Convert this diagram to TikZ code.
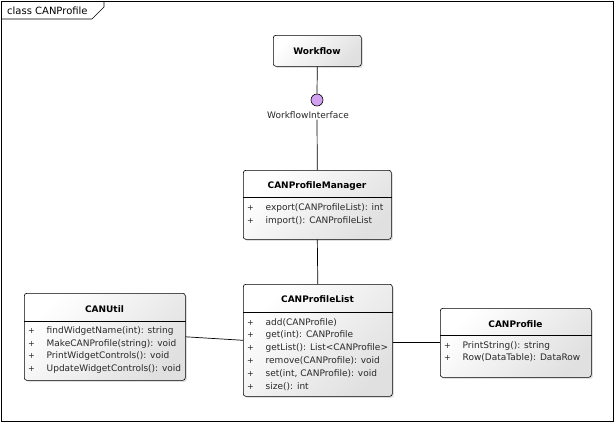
\documentclass[tikz,border=0pt]{standalone}
\usepackage{fontspec}
\setmainfont{DejaVu Sans}
\usetikzlibrary{shadows}
\definecolor{ifacepurple}{RGB}{210,160,240}
\definecolor{membertext}{RGB}{40,40,40}
\tikzset{
  classbox/.style={draw, line width=0.6pt, rounded corners=2.5pt,
    top color=white, bottom color=black!12, shading angle=45,
    drop shadow={shadow xshift=1.5pt, shadow yshift=-1.5pt, opacity=0.25},
    anchor=north west, inner sep=0pt},
  classname/.style={font=\fontsize{9}{11}\selectfont\bfseries, anchor=base, inner sep=0pt},
  member/.style={font=\fontsize{9}{11}\selectfont, text=membertext, anchor=base west, inner sep=0pt},
  plusmark/.style={font=\fontsize{8}{10}\selectfont, text=membertext, anchor=base, inner sep=0pt},
  link/.style={line width=0.7pt},
}
\begin{document}
\begin{tikzpicture}[x=1pt, y=-1pt]
  \useasboundingbox (0,0) rectangle (616,423);
  % frame with its tab
  \draw[line width=0.6pt] (1,1) rectangle (613,421);
  \draw[line width=0.6pt] (1,19) -- (92,19) -- (104,7) -- (104,1);
  \node[anchor=base west, inner sep=0pt, font=\fontsize{10}{12}\selectfont] (frametitle) at (7,14.5) {class CANProfile};
  % Workflow
  \node[classbox, minimum width=88pt, minimum height=31pt] (workflow) at (273,35) {};
  \node[classname] (workflowname) at (317,54) {Workflow};
  % provided interface
  \node[circle, draw, line width=0.6pt, fill=ifacepurple, minimum size=12pt, inner sep=0pt] (wfi) at (317,100) {};
  \node[font=\fontsize{9}{11}\selectfont, text=membertext, inner sep=1pt] (wfilabel) at (308,115) {WorkflowInterface};
  % CANProfileManager
  \node[classbox, minimum width=148pt, minimum height=69pt] (manager) at (243,170) {};
  \node[classname] (managername) at (317,188.5) {CANProfileManager};
  \draw (manager.west |- 0,197) -- (manager.east |- 0,197);
  \foreach \m [count=\i from 0] in {export(CANProfileList): int, import(): CANProfileList} {
    \node[plusmark] (managerplus-\i) at (250.5,{210.5+12.5*\i}) {+};
    \node[member] (manageritem-\i) at (265.5,{210.5+12.5*\i}) {\m};
  }
  % CANProfileList
  \node[classbox, minimum width=149pt, minimum height=112pt] (list) at (243,284) {};
  \node[classname] (listname) at (317.5,302.5) {CANProfileList};
  \draw (list.west |- 0,312) -- (list.east |- 0,312);
  \foreach \m [count=\i from 0] in {add(CANProfile), get(int): CANProfile, getList(): List<CANProfile>,
      remove(CANProfile): void, {set(int, CANProfile): void}, size(): int} {
    \node[plusmark] (listplus-\i) at (250.5,{325+12.8*\i}) {+};
    \node[member] (listitem-\i) at (265.5,{325+12.8*\i}) {\m};
  }
  % CANUtil
  \node[classbox, minimum width=161pt, minimum height=87pt] (util) at (24,293) {};
  \node[classname] (utilname) at (104.5,312) {CANUtil};
  \draw (util.west |- 0,321) -- (util.east |- 0,321);
  \foreach \m [count=\i from 0] in {findWidgetName(int): string, MakeCANProfile(string): void,
      PrintWidgetControls(): void, UpdateWidgetControls(): void} {
    \node[plusmark] (utilplus-\i) at (31.5,{333.5+12.7*\i}) {+};
    \node[member] (utilitem-\i) at (46.5,{333.5+12.7*\i}) {\m};
  }
  % CANProfile
  \node[classbox, minimum width=151pt, minimum height=69pt] (profile) at (440,308) {};
  \node[classname] (profilename) at (515.5,327) {CANProfile};
  \draw (profile.west |- 0,335) -- (profile.east |- 0,335);
  \foreach \m [count=\i from 0] in {PrintString(): string, Row(DataTable): DataRow} {
    \node[plusmark] (profileplus-\i) at (447.5,{348+12.5*\i}) {+};
    \node[member] (profileitem-\i) at (462.5,{348+12.5*\i}) {\m};
  }
  % connectors
  \draw[link] (workflow.south) -- (wfi.north);
  \draw[link] (wfi |- wfilabel.south) -- (manager.north);
  \draw[link] (manager.south) -- (list.north);
  \draw[link] (util.east) -- (list.west);
  \draw[link] (list.east |- profile.west) -- (profile.west);
\end{tikzpicture}
\end{document}
